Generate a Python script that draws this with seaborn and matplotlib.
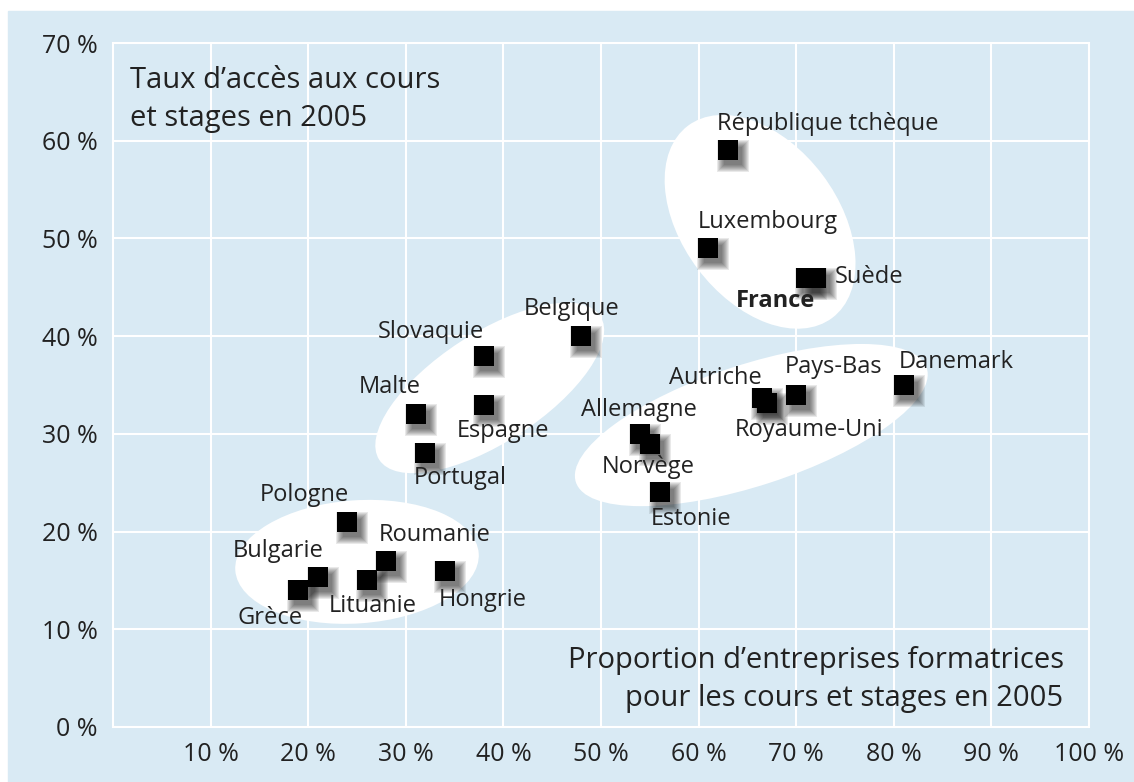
import matplotlib.pyplot as plt
import matplotlib.transforms as mtransforms
from matplotlib.patches import Ellipse, Rectangle
import pandas as pd
import seaborn as sns

# valeurs (%)
pays = ['République tchèque', 'Luxembourg', 'France', 'Suède', 'Belgique',
        'Slovaquie', 'Malte', 'Espagne', 'Portugal', 'Pologne', 'Roumanie',
        'Bulgarie', 'Grèce', 'Lituanie', 'Hongrie', 'Allemagne', 'Norvège',
        'Estonie', 'Autriche', 'Royaume-Uni', 'Pays-Bas', 'Danemark']
entreprises_formatrices = [63, 61, 71, 72, 48, 38, 31, 38, 32, 24, 28,
                           21, 19, 26, 34, 54, 55, 56, 66.5, 67, 70, 81]
taux_acces = [59, 49, 46, 46, 40, 38, 32, 33, 28, 21, 17,
              15.4, 14, 15, 16, 30, 29, 24, 33.7, 33.2, 34, 35]
x_ticks = [10, 20, 30, 40, 50, 60, 70, 80, 90, 100]
y_ticks = [0, 10, 20, 30, 40, 50, 60, 70]

# decalage des etiquettes (pixels) par rapport au point
label_offsets = {
    'République tchèque': (-11, 20), 'Luxembourg': (-11, 20),
    'France': (-70, -29), 'Suède': (19, -5), 'Belgique': (-58, 21),
    'Slovaquie': (-106, 18), 'Malte': (-57, 21), 'Espagne': (-27, -32),
    'Portugal': (-12, -31), 'Pologne': (-87, 21), 'Roumanie': (-8, 20),
    'Bulgarie': (-85, 20), 'Grèce': (-61, -34), 'Lituanie': (-38, -32),
    'Hongrie': (-6, -35), 'Allemagne': (-59, 18), 'Norvège': (-48, -29),
    'Estonie': (-9, -33), 'Autriche': (-93, 14), 'Royaume-Uni': (-32, -33),
    'Pays-Bas': (-11, 22), 'Danemark': (-5, 17),
}

# groupes entoures : centre, largeur, hauteur, angle
groupes = [
    ((66.3, 51.7), 24.6, 16.0, -53),
    ((38.6, 34.7), 27.0, 11.2, 33),
    ((65.4, 30.9), 37.8, 12.4, 18),
    ((25.0, 16.9), 25.0, 12.6, 4),
]

df = pd.DataFrame({'pays': pays, 'entreprises': entreprises_formatrices,
                   'acces': taux_acces})

blue = '#d9eaf4'
text_color = '#222222'
sns.set_style('whitegrid', {'axes.facecolor': blue, 'grid.color': 'white',
                            'axes.edgecolor': 'white'})
plt.rcParams['font.family'] = ['Open Sans', 'DejaVu Sans']

fig = plt.figure(figsize=(11.34, 7.82), dpi=100)
fig.patches.append(Rectangle((8 / 1134, 0), 1, 1 - 11 / 782,
                             transform=fig.transFigure, color=blue, zorder=-10))
ax = fig.add_axes([113 / 1134, 55 / 782, 976 / 1134, 684 / 782])

for (cx, cy), w, h, ang in groupes:
    ax.add_patch(Ellipse((cx, cy), w, h, angle=ang, facecolor='white',
                         edgecolor='none', zorder=1))

# ombre portee floue des carres
for side in [18, 20, 22, 24, 26, 28, 30, 32]:
    sns.scatterplot(data=df, x='entreprises', y='acces', marker='s',
                    s=(side * 0.72) ** 2, color='#111111', alpha=0.09,
                    linewidth=0, legend=False, ax=ax, zorder=3)
    ax.collections[-1].set_offset_transform(
        ax.transData + mtransforms.Affine2D().translate(5, -6))

sns.scatterplot(data=df, x='entreprises', y='acces', marker='s',
                s=(20 * 0.72) ** 2, color='black', linewidth=0,
                legend=False, ax=ax, zorder=5)

for name, xv, yv in zip(pays, entreprises_formatrices, taux_acces):
    ax.annotate(name, (xv, yv), xytext=label_offsets[name],
                textcoords='offset pixels', ha='left', va='baseline',
                fontsize=17, color=text_color, zorder=6,
                fontweight='bold' if name == 'France' else 'normal')

ax.set_xlim(0, 100)
ax.set_ylim(0, 70)
ax.set_xticks(x_ticks)
ax.set_xticklabels([f'{v} %' for v in x_ticks])
ax.set_yticks(y_ticks)
ax.set_yticklabels([f'{v} %' for v in y_ticks])
ax.grid(True, color='white', linewidth=1.5)
ax.set_axisbelow(True)
for sp in ax.spines.values():
    sp.set_color('white')
    sp.set_linewidth(1.5)
ax.tick_params(length=0, labelsize=18, colors=text_color)
ax.tick_params(axis='x', pad=11)
ax.tick_params(axis='y', pad=11)
ax.set_xlabel('')
ax.set_ylabel('')

ax.text(0.0174, 0.8787, 'Taux d’accès aux cours\net stages en 2005',
        transform=ax.transAxes, ha='left', va='baseline', fontsize=21,
        linespacing=1.42, color=text_color)
ax.text(0.974, 0.031, 'Proportion d’entreprises formatrices\npour les cours et stages en 2005',
        transform=ax.transAxes, ha='right', va='baseline', fontsize=21,
        linespacing=1.42, multialignment='right', color=text_color)

plt.savefig('out.png', dpi=100, facecolor='white')
plt.close()
